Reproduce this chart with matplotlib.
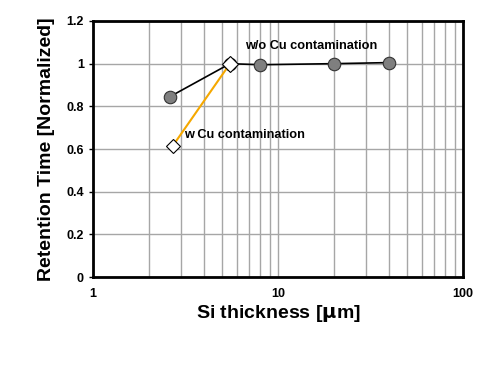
import numpy as np
import matplotlib.pyplot as plt
from matplotlib.ticker import FixedLocator, FixedFormatter, NullFormatter

plt.rcParams['font.family'] = ['Liberation Sans', 'DejaVu Sans']

# datos
x_sin_cu = [2.6, 5.5, 8.0, 20.0, 40.0]
y_sin_cu = [0.845, 1.0, 0.995, 1.0, 1.005]
x_con_cu = [2.7, 5.5]
y_con_cu = [0.615, 1.0]

xticks = [1, 10, 100]
xtick_labels = ['1', '10', '100']
yticks = [0, 0.2, 0.4, 0.6, 0.8, 1.0, 1.2]
ytick_labels = ['0', '0.2', '0.4', '0.6', '0.8', '1', '1.2']

fig = plt.figure(figsize=(5, 3.68), dpi=100)
ax = fig.add_axes([0.186, 0.247, 0.740, 0.696])

ax.set_xscale('log')
ax.set_xlim(1, 100)
ax.set_ylim(0, 1.2)

# grilla
ax.xaxis.set_major_locator(FixedLocator(xticks))
ax.xaxis.set_major_formatter(FixedFormatter(xtick_labels))
ax.xaxis.set_minor_locator(FixedLocator([k * 10**e for e in range(0, 2) for k in range(2, 10)]))
ax.xaxis.set_minor_formatter(NullFormatter())
ax.set_yticks(yticks)
ax.set_yticklabels(ytick_labels)
ax.grid(True, which='both', axis='x', color='#a6a6a6', linewidth=1.0)
ax.grid(True, which='major', axis='y', color='#a6a6a6', linewidth=1.0)
ax.set_axisbelow(True)

ax.plot(x_con_cu, y_con_cu, color='#f5a800', linewidth=1.5, marker='D', markersize=7,
        markerfacecolor='white', markeredgecolor='black', markeredgewidth=0.8, zorder=3)
ax.plot(x_sin_cu, y_sin_cu, color='black', linewidth=1.2, marker='o', markersize=9,
        markerfacecolor='#7f7f7f', markeredgecolor='#333333', markeredgewidth=0.8, zorder=2)
# el diamante queda encima del círculo en 5.5
ax.plot(x_con_cu[1:], y_con_cu[1:], linestyle='none', marker='D', markersize=8,
        markerfacecolor='white', markeredgecolor='black', markeredgewidth=0.8, zorder=4)

ax.text(6.6, 1.07, 'w/o Cu contamination', fontsize=9.2, fontweight='bold')
ax.text(3.1, 0.65, 'w Cu contamination', fontsize=9.2, fontweight='bold')

for s in ax.spines.values():
    s.set_linewidth(2)
ax.tick_params(axis='x', which='both', length=0, labelsize=9, pad=8)
ax.tick_params(axis='y', which='major', length=3, direction='out', width=1, labelsize=9)
for lab in ax.get_xticklabels() + ax.get_yticklabels():
    lab.set_fontweight('bold')

ax.set_xlabel(r'Si thickness [$\mathbf{\mu}$m]', fontsize=14, fontweight='bold', labelpad=2)
ax.set_ylabel('Retention Time [Normalized]', fontsize=14, fontweight='bold', labelpad=8)

plt.savefig('out.png', dpi=100)
